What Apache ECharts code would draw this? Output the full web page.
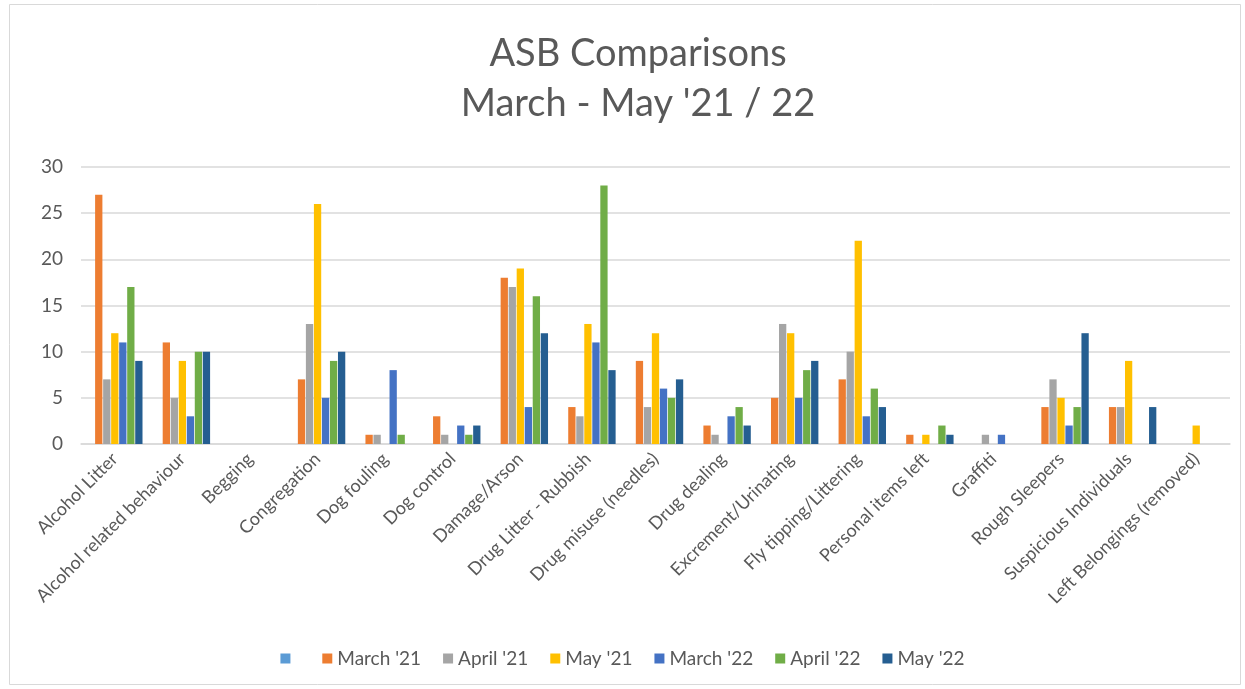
<!DOCTYPE html>
<html>
<head>
<meta charset="utf-8">
<script src="https://cdn.jsdelivr.net/npm/echarts@6/dist/echarts.min.js"></script>
<style>
html,body{margin:0;padding:0;background:#fff;}
#chart{width:1245px;height:689px;}
</style>
</head>
<body>
<div id="chart"></div>
<script>
const categories = ["Alcohol Litter","Alcohol related behaviour","Begging","Congregation","Dog fouling","Dog control","Damage/Arson","Drug Litter - Rubbish","Drug misuse (needles)","Drug dealing","Excrement/Urinating","Fly tipping/Littering","Personal items left","Graffiti","Rough Sleepers","Suspicious Individuals","Left Belongings (removed)"];
const seriesNames = [" ","March '21","April '21","May '21","March '22","April '22","May '22"];
const blank   = [null,null,null,null,null,null,null,null,null,null,null,null,null,null,null,null,null];
const march21 = [27,11,null,7,1,3,18,4,9,2,5,7,1,null,4,4,null];
const april21 = [7,5,null,13,1,1,17,3,4,1,13,10,null,1,7,4,null];
const may21   = [12,9,null,26,null,null,19,13,12,null,12,22,1,null,5,9,2];
const march22 = [11,3,null,5,8,2,4,11,6,3,5,3,null,1,2,null,null];
const april22 = [17,10,null,9,1,1,16,28,5,4,8,6,2,null,4,null,null];
const may22   = [9,10,null,10,null,2,12,8,7,2,9,4,1,null,12,4,null];
const yTicks = [0,5,10,15,20,25,30];
const colors = ["#5B9BD5","#ED7D31","#A5A5A5","#FFC000","#4472C4","#70AD47","#255E91"];

const allData = [blank,march21,april21,may21,march22,april22,may22];
const chart = echarts.init(document.getElementById('chart'));
chart.setOption({
  backgroundColor:'#fff',
  color: colors,
  animation:false,
  textStyle:{fontFamily:'Lato'},
  graphic:[{type:'rect',shape:{x:9.5,y:4.5,width:1231,height:680},style:{fill:'none',stroke:'#d9d9d9',lineWidth:1}}],
  title:{
    text:"ASB Comparisons\nMarch - May '21 / 22",
    left:633, top:24, textAlign:'center',
    textStyle:{fontFamily:'Lato',fontSize:38,fontWeight:'normal',color:'#595959',lineHeight:50}
  },
  legend:{
    data: seriesNames,
    bottom:16, left:'center',
    itemWidth:10, itemHeight:10, itemGap:22,
    icon:'rect',
    textStyle:{fontFamily:'Lato',fontSize:19,color:'#595959'}
  },
  grid:{left:81,right:15,top:167,bottom:245,containLabel:false},
  xAxis:{
    type:'category', data:categories,
    axisLine:{lineStyle:{color:'#d9d9d9',width:1.5}},
    axisTick:{show:false},
    axisLabel:{rotate:45,interval:0,margin:12,fontFamily:'Lato',fontSize:18,color:'#595959'}
  },
  yAxis:{
    type:'value', min:yTicks[0], max:yTicks[yTicks.length-1], interval:5,
    axisLine:{show:false}, axisTick:{show:false},
    axisLabel:{margin:18,fontFamily:'Lato',fontSize:19,color:'#595959'},
    splitLine:{lineStyle:{color:'#d9d9d9',width:1.5}}
  },
  series: allData.map((d,i)=>({
    name:seriesNames[i], type:'bar', data:d,
    barGap:'10%', barCategoryGap:'18%'
  }))
});
</script>
</body>
</html>
